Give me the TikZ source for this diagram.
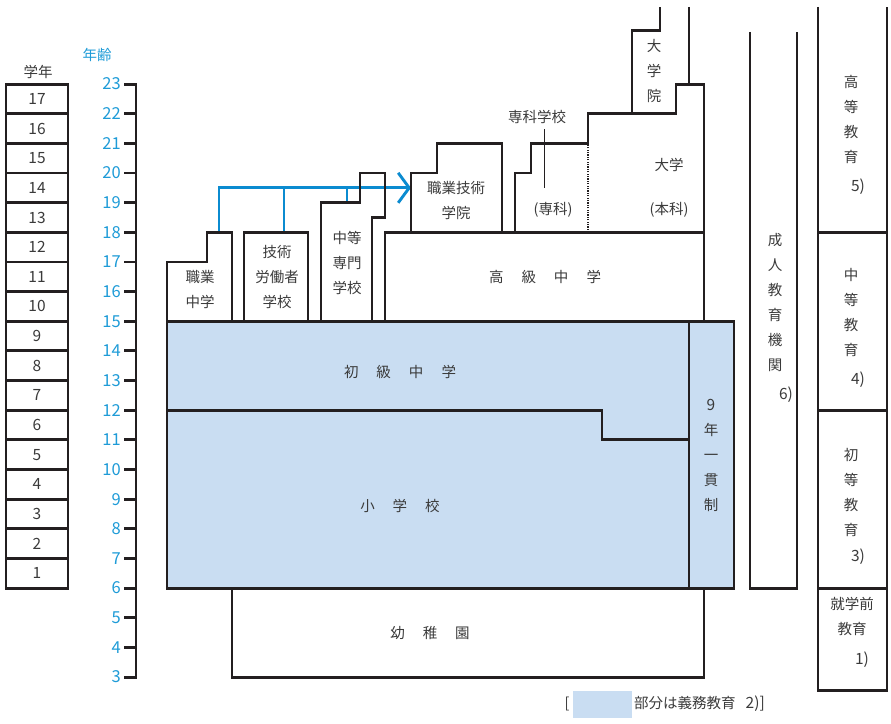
\documentclass[tikz,border=0pt]{standalone}
\usepackage{fontspec}
\setmainfont{Noto Sans CJK JP}
\usepackage{xcolor}
\usetikzlibrary{arrows.meta,positioning}
\definecolor{lineblack}{HTML}{231F20}
\definecolor{textgray}{HTML}{3A3A3A}
\definecolor{agesblue}{HTML}{1E9BD7}
\definecolor{arrowblue}{HTML}{0B8BD0}
\definecolor{dutyfill}{HTML}{C9DDF2}
\newcommand{\wgap}{\hspace{18pt}}
\newcommand{\digits}{\fontsize{15.5}{25}\selectfont}

\begin{document}
\begin{tikzpicture}[x=1pt, y=29.65pt,
    wall/.style={draw=lineblack, line width=2.9pt, line join=miter},
    lbl/.style={text=textgray, font=\fontsize{14.5}{25}\selectfont, align=center, inner sep=0pt},
    agelbl/.style={text=agesblue, font=\fontsize{16.5}{25}\selectfont, anchor=east, inner sep=0pt},
    route/.style={draw=arrowblue, line width=2.9pt}]
    \useasboundingbox (0,1.417) rectangle (891,25.835);

    \node[lbl] (gradehead) at (38,23.41) {学年};
    \node[lbl, text=agesblue] (agehead) at (97,23.98) {年齢};
    \foreach \g in {1,...,17} {
        \draw[wall] (6,\g+5) rectangle (68,\g+6);
        \node[lbl, font=\digits] (grade\g) at (37,\g+5.5) {\g};
    }
    \foreach \a in {3,...,23} {
        \draw[wall] (124,\a) -- (136,\a);
        \node[agelbl] (age\a) at (121,\a) {\a};
    }
    \draw[wall, line cap=rect] (136,3) -- (136,23);

    \fill[dutyfill] (167,6) rectangle (734,15);
    \draw[wall] (167,6) rectangle (734,15);
    \draw[wall] (689,6) -- (689,15);
    \draw[wall] (167,12) -- (602,12) -- (602,11) -- (689,11);
    \draw[wall] (232,6) -- (232,3) -- (704,3) -- (704,6);

    \coordinate (vocstart) at (219,18);
    \coordinate (techstart) at (284,18);
    \coordinate (secstart) at (347,19);
    \coordinate (arrowtip) at (411,19.5);
    \draw[route] (techstart) -- (284,19.5);
    \draw[route] (secstart) -- (347,19.5);
    \draw[route, -{Straight Barb[length=11pt, width=30pt, line width=2.9pt]}] (vocstart) |- (arrowtip);

    \draw[wall] (167,15) -- (167,17) -- (207,17) -- (207,18) -- (232,18) -- (232,15);
    \draw[wall] (244,15) rectangle (308,18);
    \draw[wall] (321,15) -- (321,19) -- (360,19) -- (360,20) -- (385,20) -- (385,18.5) -- (372,18.5) -- (372,15);
    \draw[wall] (385,15) -- (385,18) -- (704,18) -- (704,15);
    \draw[wall] (411,18) -- (411,20) -- (437,20) -- (437,21) -- (502,21) -- (502,18);
    \draw[wall] (515,18) -- (515,20) -- (531,20) -- (531,21) -- (588,21) -- (588,22) -- (676,22) -- (676,23) -- (704,23) -- (704,18);
    \draw[wall] (632,22) -- (632,24.8) -- (660,24.8) -- (660,25.6);
    \draw[wall] (689,25.6) -- (689,23);
    \draw[draw=lineblack, line width=2pt, dash pattern=on 1.2pt off 1.2pt] (588,18) -- (588,21);
    \draw[draw=lineblack, line width=0.9pt] (544,21.48) -- (544,19.49);

    \draw[wall] (750,24.76) -- (750,6) -- (797,6) -- (797,24.76);
    \draw[wall] (818,25.6) -- (818,2.56) -- (887,2.56) -- (887,25.6);
    \draw[wall] (818,18) -- (887,18);
    \draw[wall] (818,12) -- (887,12);
    \draw[wall] (818,6) -- (887,6);

    \node[lbl] (shochu) at (400,13.29) {初\wgap 級\wgap 中\wgap 学};
    \node[lbl] (shogakko) at (400,8.77) {小\wgap 学\wgap 校};
    \node[lbl] (yochien) at (430,4.49) {幼\wgap 稚\wgap 園};
    \node[lbl] (kochu) at (545,16.49) {高\wgap 級\wgap 中\wgap 学};
    \node[lbl] (shokuchu) at (200,16.07) {職業\\中学};
    \node[lbl] (gijutsu) at (277,16.49) {技術\\労働者\\学校};
    \node[lbl] (chusen) at (347,16.96) {中等\\専門\\学校};
    \node[lbl] (shokugi) at (456,19.06) {職業技術\\学院};
    \node[lbl] (daigakuin) at (654,23.44) {大\\学\\院};
    \node[lbl] (daigaku) at (669,20.27) {大学};
    \node[lbl] (honka) at (669,18.75) {(本科)};
    \node[lbl] (senka) at (553,18.75) {(専科)};
    \node[lbl] (senkagakko) at (537,21.89) {専科学校};
    \node[lbl] (ikkan) at (711,10.49) {{\digits 9}\\年\\一\\貫\\制};
    \node[lbl] (seijin) at (775,15.62) {成\\人\\教\\育\\機\\関};
    \node[lbl, font=\digits] (note6) at (786,12.51) {6)};
    \node[lbl] (koto) at (851,21.79) {高\\等\\教\\育};
    \node[lbl, font=\digits] (note5) at (858,19.53) {5)};
    \node[lbl] (chuto) at (851,15.28) {中\\等\\教\\育};
    \node[lbl, font=\digits] (note4) at (858,13.02) {4)};
    \node[lbl] (shoto) at (851,9.24) {初\\等\\教\\育};
    \node[lbl, font=\digits] (note3) at (858,7.05) {3)};
    \node[lbl] (shugakumae) at (852,5.03) {就学前\\教育};
    \node[lbl, font=\digits] (note1) at (862,3.58) {1)};

    \fill[dutyfill] (573,1.62) rectangle (632,2.53);
    \node[lbl] (legopen) at (567,2.09) {[};
    \node[lbl, anchor=west] (legtext) at (634,2.09) {部分は義務教育\hspace{10pt}{\digits 2)]}};
\end{tikzpicture}
\end{document}
